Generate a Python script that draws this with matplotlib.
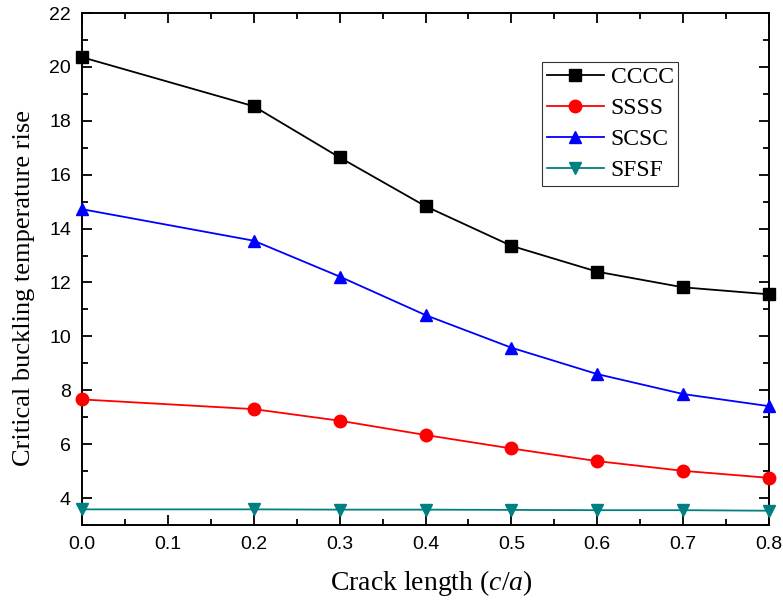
import matplotlib
matplotlib.use('Agg')
import matplotlib.pyplot as plt
from matplotlib.ticker import MultipleLocator, FormatStrFormatter

plt.rcParams['mathtext.fontset'] = 'custom'
plt.rcParams['mathtext.rm'] = 'Liberation Serif'
plt.rcParams['mathtext.it'] = 'Liberation Serif:italic'

# crack length c/a
crack = [0.0, 0.2, 0.3, 0.4, 0.5, 0.6, 0.7, 0.8]

# critical buckling temperature rise per boundary condition
cccc = [20.36, 18.54, 16.64, 14.83, 13.36, 12.40, 11.82, 11.56]
ssss = [7.66, 7.30, 6.87, 6.34, 5.84, 5.37, 5.01, 4.75]
scsc = [14.72, 13.55, 12.22, 10.79, 9.58, 8.60, 7.86, 7.41]
sfsf = [3.58, 3.58, 3.57, 3.57, 3.56, 3.55, 3.55, 3.53]

series = [
    ('CCCC', cccc, 'black', 's'),
    ('SSSS', ssss, '#ff0000', 'o'),
    ('SCSC', scsc, '#0000ff', '^'),
    ('SFSF', sfsf, '#008080', 'v'),
]

fig = plt.figure(figsize=(7.83, 6.02), dpi=100)
ax = fig.add_axes([82 / 783, 1 - 525 / 602, (769 - 82) / 783, (525 - 13) / 602])

for name, vals, color, mk in series:
    ax.plot(crack, vals, color=color, linewidth=1.3, marker=mk,
            markersize=9, label=name, clip_on=False, zorder=3)

ax.set_xlim(0, 0.8)
ax.set_ylim(3, 22)
ax.xaxis.set_major_locator(MultipleLocator(0.1))
ax.xaxis.set_minor_locator(MultipleLocator(0.05))
ax.yaxis.set_major_locator(MultipleLocator(2))
ax.yaxis.set_minor_locator(MultipleLocator(1))
ax.xaxis.set_major_formatter(FormatStrFormatter('%.1f'))
ax.yaxis.set_major_formatter(FormatStrFormatter('%d'))

ax.tick_params(which='both', direction='in', top=True, right=True, width=1.3)
ax.tick_params(which='major', length=7, labelsize=14, pad=8)
ax.tick_params(which='minor', length=4)
for lab in ax.get_xticklabels() + ax.get_yticklabels():
    lab.set_family('Liberation Sans')
for sp in ax.spines.values():
    sp.set_linewidth(1.4)

ax.set_xlabel('Crack length ($c/a$)', fontsize=20, family='Liberation Serif',
              va='center')
ax.set_ylabel('Critical buckling temperature rise', fontsize=19,
              family='Liberation Serif', va='center')
ax.xaxis.set_label_coords((431 - 82) / 687, (525 - 583) / 512)
ax.yaxis.set_label_coords((24 - 82) / 687, (525 - 288) / 512)

leg = ax.legend(loc='upper left', bbox_to_anchor=(0.670, 0.904), borderaxespad=0,
                frameon=True, fancybox=False, edgecolor='black', handlelength=2.4,
                prop={'family': 'Liberation Serif', 'size': 17},
                labelspacing=0.4, borderpad=0.2, handletextpad=0.3)
leg.get_frame().set_linewidth(0.8)

fig.savefig('out.png', dpi=100, facecolor='white')
